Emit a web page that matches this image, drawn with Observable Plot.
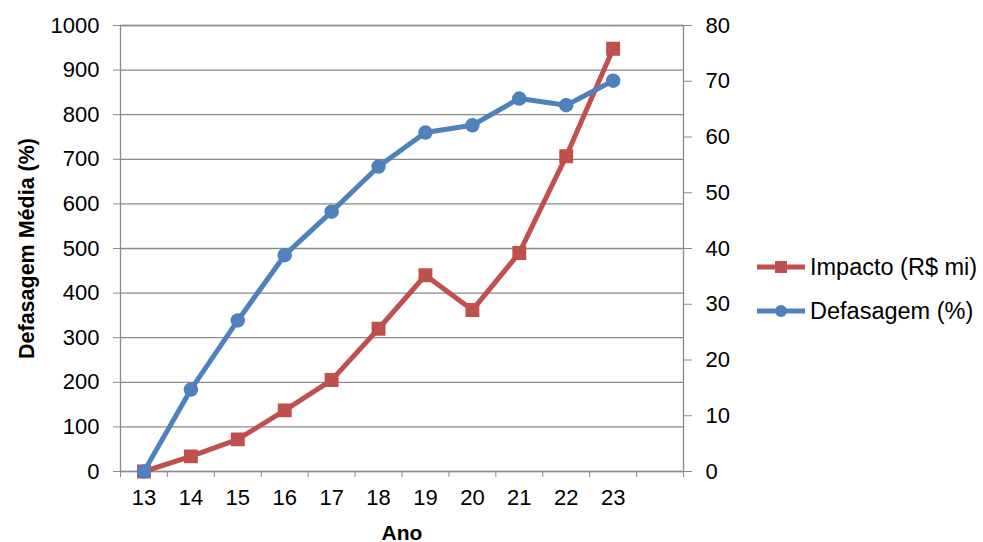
<!DOCTYPE html>
<html>
<head>
<meta charset="utf-8">
<script src="https://cdn.jsdelivr.net/npm/d3@7"></script>
<script src="https://cdn.jsdelivr.net/npm/@observablehq/plot@0.6"></script>
<style>
  html, body { margin: 0; padding: 0; background: #fff; }
  #wrap { position: relative; width: 983px; height: 542px; font-family: "Liberation Sans", Arial, sans-serif; }
  .leg { position: absolute; left: 757px; height: 26px; display: flex; align-items: center; font-size: 23.5px; color: #000; white-space: nowrap; }
  .leg svg { margin-right: 5px; flex: none; }
</style>
</head>
<body>
<div id="wrap"></div>
<script>
const anos = [13, 14, 15, 16, 17, 18, 19, 20, 21, 22, 23];
const impacto = [0, 34, 72, 137, 205, 320, 440, 362, 490, 707, 948];
const defasagem = [0, 14.7, 27.1, 38.8, 46.6, 54.7, 60.8, 62.1, 66.9, 65.7, 70.1];
const leftTicks = [0, 100, 200, 300, 400, 500, 600, 700, 800, 900, 1000];
const rightTicks = [0, 10, 20, 30, 40, 50, 60, 70, 80];
const seriesNames = ["Impacto (R$ mi)", "Defasagem (%)"];
const colors = ["#C0504D", "#4F81BD"];

const k = 1000 / 80;
const slots = anos.length + 1;
const bounds = d3.range(slots + 1).map(i => anos[0] - 0.5 + i);

const red = anos.map((a, i) => ({ano: a, v: impacto[i]}));
const blue = anos.map((a, i) => ({ano: a, v: defasagem[i] * k}));

const chart = Plot.plot({
  width: 983,
  height: 542,
  marginLeft: 120,
  marginRight: 300,
  marginTop: 25,
  marginBottom: 71,
  style: {fontFamily: "'Liberation Sans', Arial, sans-serif", fontSize: "22px", color: "#000", background: "#fff"},
  x: {domain: [bounds[0], bounds[bounds.length - 1]]},
  y: {domain: [0, 1000]},
  marks: [
    Plot.gridY(leftTicks, {stroke: "#8a8a8a", strokeOpacity: 1, strokeWidth: 1.3}),
    Plot.frame({stroke: "#8a8a8a", strokeWidth: 1.3}),
    Plot.axisY({ticks: leftTicks, tickFormat: d => String(d), tickSize: 7, tickPadding: 14, stroke: "#8a8a8a", label: "Defasagem Média (%)", labelAnchor: "center", labelArrow: "none", labelOffset: 102, fontSize: 22}),
    Plot.axisY({anchor: "right", ticks: rightTicks.map(v => v * k), tickFormat: d => String(Math.round(d / k)), tickSize: 8, tickPadding: 14, stroke: "#8a8a8a", label: null, fontSize: 22}),
    Plot.axisX({ticks: bounds, tickFormat: () => "", tickSize: 6, stroke: "#8a8a8a", label: null}),
    Plot.axisX({ticks: anos, tickFormat: d => String(d), tickSize: 0, tickPadding: 18, label: "Ano", labelAnchor: "center", labelArrow: "none", labelOffset: 68, fontSize: 22}),
    Plot.line(red, {x: "ano", y: "v", stroke: colors[0], strokeWidth: 5}),
    Plot.dot(red, {x: "ano", y: "v", symbol: "square", r: 7, fill: colors[0], stroke: colors[0]}),
    Plot.line(blue, {x: "ano", y: "v", stroke: colors[1], strokeWidth: 5}),
    Plot.dot(blue, {x: "ano", y: "v", symbol: "circle", r: 6.5, fill: colors[1], stroke: colors[1]})
  ]
});

// bold axis titles with their own sizes
chart.querySelectorAll("[aria-label='y-axis label'] text").forEach(t => {
  t.setAttribute("font-weight", "bold");
  t.setAttribute("font-size", "21.5px");
});
chart.querySelectorAll("[aria-label='x-axis label'] text").forEach(t => {
  t.setAttribute("font-weight", "bold");
  t.setAttribute("font-size", "21px");
});

const wrap = document.getElementById("wrap");
wrap.appendChild(chart);

const legCenters = [267, 311];
seriesNames.forEach((name, i) => {
  const d = document.createElement("div");
  d.className = "leg";
  d.style.top = (legCenters[i] - 13) + "px";
  const marker = i === 0
    ? `<rect x="18" y="7" width="12" height="12" fill="${colors[0]}"/>`
    : `<circle cx="24" cy="13" r="6" fill="${colors[1]}"/>`;
  d.innerHTML = `<svg width="48" height="26"><line x1="0" y1="13" x2="48" y2="13" stroke="${colors[i]}" stroke-width="5"/>${marker}</svg><span>${name}</span>`;
  wrap.appendChild(d);
});
</script>
</body>
</html>
